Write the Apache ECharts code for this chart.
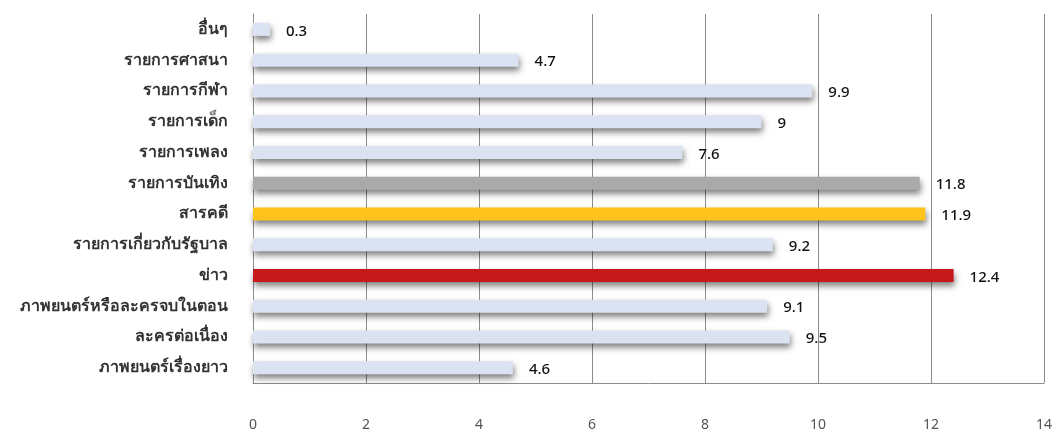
<!DOCTYPE html>
<html>
<head>
<meta charset="utf-8">
<script src="https://cdn.jsdelivr.net/npm/echarts@6/dist/echarts.min.js"></script>
<style>
  html, body { margin: 0; padding: 0; background: #ffffff; }
  #chart { width: 1057px; height: 432px; }
</style>
</head>
<body>
<div id="chart"></div>
<script>
// Programme categories, top to bottom
const categories = [
  'อื่นๆ', 'รายการศาสนา', 'รายการกีฬา', 'รายการเด็ก', 'รายการเพลง',
  'รายการบันเทิง', 'สารคดี', 'รายการเกี่ยวกับรัฐบาล', 'ข่าว',
  'ภาพยนตร์หรือละครจบในตอน', 'ละครต่อเนื่อง', 'ภาพยนตร์เรื่องยาว'
];
const values = [0.3, 4.7, 9.9, 9, 7.6, 11.8, 11.9, 9.2, 12.4, 9.1, 9.5, 4.6];
const highlight = {
  'รายการบันเทิง': '#aaaaaa',
  'สารคดี': '#fdc31a',
  'ข่าว': '#c5191c'
};
const plain = '#dbe2f1';

const chart = echarts.init(document.getElementById('chart'));
const font = "'Noto Sans', 'DejaVu Sans', sans-serif";

chart.setOption({
  animation: false,
  grid: { left: 253, right: 13, top: 14, bottom: 48, containLabel: false },
  xAxis: {
    type: 'value', min: 0, max: 14, interval: 2,
    axisLine: { show: true, lineStyle: { color: '#8c8c8c' } },
    axisTick: { show: false },
    splitLine: { show: true, lineStyle: { color: '#8c8c8c', width: 1 } },
    axisLabel: { color: '#555', fontSize: 14, fontFamily: font, margin: 35 }
  },
  yAxis: {
    type: 'category', data: categories, inverse: true,
    axisLine: { show: true, lineStyle: { color: '#8c8c8c' } },
    axisTick: { show: false },
    axisLabel: { color: '#333', fontSize: 16, fontWeight: 600, fontFamily: font, margin: 25 }
  },
  series: [{
    type: 'bar',
    barWidth: 13,
    data: values.map((v, i) => ({
      value: v,
      itemStyle: { color: highlight[categories[i]] || plain }
    })),
    itemStyle: {
      shadowColor: 'rgba(0,0,0,0.5)', shadowBlur: 6, shadowOffsetX: 1, shadowOffsetY: 4
    },
    label: {
      show: true, position: 'right', distance: 16, offset: [0, 2],
      color: '#111', fontSize: 15, fontWeight: 500, fontFamily: font
    }
  }]
});
</script>
</body>
</html>
